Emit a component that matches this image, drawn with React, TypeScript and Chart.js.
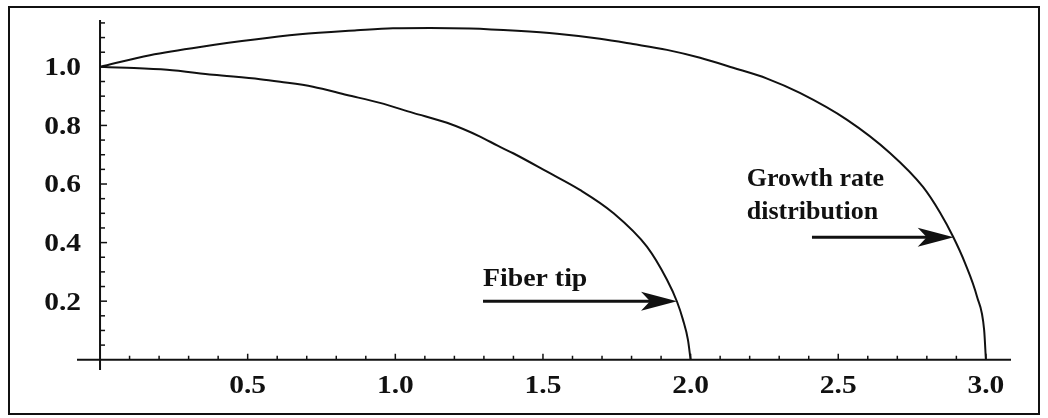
import React, { useEffect, useRef } from 'react';
import { Chart, registerables } from 'chart.js';

Chart.register(...registerables);

// Inner curve: "Fiber tip"
const fiberTipX = [0, 0.091, 0.227, 0.383, 0.542, 0.610, 0.721, 0.836, 0.948, 1.060, 1.175, 1.287, 1.348, 1.399, 1.514, 1.625, 1.737, 1.852, 1.920, 1.954, 1.974, 1.991, 2.0];
const fiberTipY = [1.0, 0.997, 0.990, 0.973, 0.958, 0.949, 0.932, 0.904, 0.877, 0.843, 0.809, 0.762, 0.730, 0.705, 0.642, 0.580, 0.502, 0.386, 0.273, 0.198, 0.137, 0.068, 0];

// Outer curve: "Growth rate distribution"
const growthX = [0, 0.169, 0.339, 0.677, 0.870, 0.992, 1.118, 1.253, 1.412, 1.548, 1.693, 1.805, 1.920, 2.032, 2.144, 2.259, 2.370, 2.530, 2.675, 2.787, 2.845, 2.889, 2.929, 2.970, 2.994, 3.0];
const growthY = [1.0, 1.040, 1.068, 1.111, 1.125, 1.132, 1.133, 1.131, 1.123, 1.113, 1.096, 1.078, 1.058, 1.031, 0.997, 0.960, 0.911, 0.819, 0.706, 0.590, 0.502, 0.420, 0.331, 0.215, 0.102, 0];

const xTickValues = [0.5, 1.0, 1.5, 2.0, 2.5, 3.0];
const xTickLabels = ['0.5', '1.0', '1.5', '2.0', '2.5', '3.0'];
const yTickValues = [0.2, 0.4, 0.6, 0.8, 1.0];
const yTickLabels = ['0.2', '0.4', '0.6', '0.8', '1.0'];

const fiberLabel = 'Fiber tip';
const growthLabelLines = ['Growth rate', 'distribution'];

// annotation anchors in data coordinates
const fiberArrow = { x0: 1.297, x1: 1.954, y: 0.2 };
const fiberText = { x: 1.297, y: 0.253 };
const growthArrow = { x0: 2.411, x1: 2.891, y: 0.418 };
const growthText = { x: 2.19, y: [0.594, 0.481] };

const FONT = '"Liberation Serif", "Times New Roman", serif';

function drawArrow(ctx: CanvasRenderingContext2D, xa: number, xb: number, y: number) {
  const headLen = 36;
  const half = 9.5;
  const notch = 27;
  ctx.lineWidth = 3;
  ctx.beginPath();
  ctx.moveTo(xa, y);
  ctx.lineTo(xb - notch + 2, y);
  ctx.stroke();
  ctx.beginPath();
  ctx.moveTo(xb, y);
  ctx.lineTo(xb - headLen, y - half);
  ctx.lineTo(xb - notch, y);
  ctx.lineTo(xb - headLen, y + half);
  ctx.closePath();
  ctx.fill();
}

// draw text stretched horizontally (the reference glyphs are wide)
function wideText(ctx: CanvasRenderingContext2D, text: string, x: number, y: number, sx: number) {
  ctx.save();
  ctx.translate(x, y);
  ctx.scale(sx, 1);
  ctx.fillText(text, 0, 0);
  ctx.restore();
}

const axesPlugin = {
  id: 'mmaAxes',
  afterDatasetsDraw(chart: any) {
    const ctx: CanvasRenderingContext2D = chart.ctx;
    const xs = chart.scales.x;
    const ys = chart.scales.y;
    const X = (v: number) => xs.getPixelForValue(v);
    const Y = (v: number) => ys.getPixelForValue(v);
    ctx.save();
    ctx.strokeStyle = '#111';
    ctx.fillStyle = '#111';
    ctx.lineWidth = 2;
    // axes lines
    ctx.beginPath();
    ctx.moveTo(X(xs.min), Y(0));
    ctx.lineTo(X(xs.max), Y(0));
    ctx.stroke();
    ctx.beginPath();
    ctx.moveTo(X(0), Y(ys.min));
    ctx.lineTo(X(0), Y(ys.max));
    ctx.stroke();
    // x ticks (inward = upward)
    ctx.lineWidth = 1.5;
    for (let i = 1; i <= 30; i++) {
      const v = i / 10;
      const len = i % 5 === 0 ? 6 : 4;
      ctx.beginPath();
      ctx.moveTo(X(v), Y(0));
      ctx.lineTo(X(v), Y(0) - len);
      ctx.stroke();
    }
    // y ticks (inward = rightward)
    for (let i = 1; i <= 23; i++) {
      const v = i * 0.05;
      const len = i % 4 === 0 ? 7 : 5;
      ctx.beginPath();
      ctx.moveTo(X(0), Y(v));
      ctx.lineTo(X(0) + len, Y(v));
      ctx.stroke();
    }
    // tick labels
    ctx.font = `bold 25px ${FONT}`;
    const sx = 1.18;
    ctx.textAlign = 'center';
    ctx.textBaseline = 'middle';
    xTickValues.forEach((v, i) => {
      wideText(ctx, xTickLabels[i], X(v), Y(0) + 27, sx);
    });
    ctx.textAlign = 'right';
    yTickValues.forEach((v, i) => {
      wideText(ctx, yTickLabels[i], X(0) - 19, Y(v) + 2, sx);
    });
    // annotations
    ctx.font = `bold 26px ${FONT}`;
    ctx.textAlign = 'left';
    ctx.textBaseline = 'alphabetic';
    wideText(ctx, fiberLabel, X(fiberText.x), Y(fiberText.y), 1.07);
    growthLabelLines.forEach((t, i) => {
      ctx.fillText(t, X(growthText.x), Y(growthText.y[i]));
    });
    drawArrow(ctx, X(fiberArrow.x0), X(fiberArrow.x1), Y(fiberArrow.y));
    drawArrow(ctx, X(growthArrow.x0), X(growthArrow.x1), Y(growthArrow.y));
    ctx.restore();
  },
};

export default function App() {
  const canvasRef = useRef<HTMLCanvasElement | null>(null);

  useEffect(() => {
    const canvas = canvasRef.current;
    if (!canvas) return;
    const toPoints = (xs: number[], ys: number[]) => xs.map((x, i) => ({ x, y: ys[i] }));
    const chart = new Chart(canvas, {
      type: 'scatter',
      data: {
        datasets: [
          {
            label: 'Fiber tip',
            data: toPoints(fiberTipX, fiberTipY),
            showLine: true,
            borderColor: '#111',
            borderWidth: 2,
            pointRadius: 0,
            cubicInterpolationMode: 'monotone',
          },
          {
            label: 'Growth rate distribution',
            data: toPoints(growthX, growthY),
            showLine: true,
            borderColor: '#111',
            borderWidth: 2,
            pointRadius: 0,
            cubicInterpolationMode: 'monotone',
          },
        ],
      } as any,
      options: {
        responsive: false,
        animation: false,
        devicePixelRatio: 1,
        layout: { padding: { left: 77, right: 37, top: 20, bottom: 48 } },
        plugins: { legend: { display: false }, tooltip: { enabled: false } },
        scales: {
          x: { type: 'linear', min: -0.078, max: 3.085, display: false },
          y: { type: 'linear', min: -0.035, max: 1.16, display: false },
        },
      } as any,
      plugins: [axesPlugin],
    });
    return () => chart.destroy();
  }, []);

  return (
    <div style={{ position: 'absolute', left: 0, top: 0, width: 1048, height: 418, background: '#fff' }}>
      <canvas ref={canvasRef} width={1048} height={418} style={{ position: 'absolute', left: 0, top: 0 }} />
      <div
        style={{
          position: 'absolute',
          left: 8,
          top: 6,
          width: 1032,
          height: 409,
          border: '2px solid #111',
          boxSizing: 'border-box',
          pointerEvents: 'none',
        }}
      />
    </div>
  );
}
